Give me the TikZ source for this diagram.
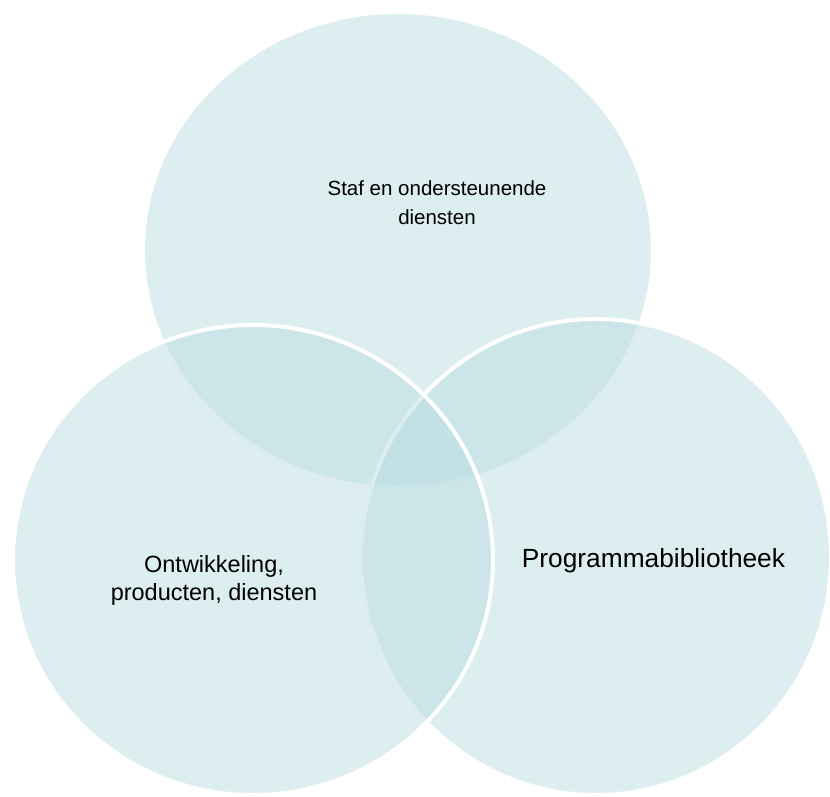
\documentclass[tikz,border=0pt]{standalone}
\usepackage{fontspec}
\setmainfont{Liberation Sans}
\definecolor{vennblue}{RGB}{187,221,225}
\tikzset{
  venn/.style={fill=vennblue,fill opacity=0.5,draw=white,line width=4pt},
  vennlabel/.style={align=center,text=black,inner sep=0pt,anchor=base}
}
\begin{document}
\begin{tikzpicture}[x=1pt,y=-1pt]
  \useasboundingbox (0,0) rectangle (830,796);
  \draw[venn] (398,250) ellipse [x radius=255, y radius=238];
  \draw[venn] (596,557) ellipse [x radius=235, y radius=238];
  \draw[venn] (253,560) ellipse [x radius=240, y radius=235];
  \node[vennlabel,font=\fontsize{20.5}{28.3}\selectfont] (staf) at (437,224) {Staf en ondersteunende\\diensten};
  \node[vennlabel,font=\fontsize{23.5}{28}\selectfont] (ontw) at (214,600) {Ontwikkeling,\\producten, diensten};
  \node[vennlabel,font=\fontsize{26.3}{29}\selectfont] (prog) at (653.5,567) {Programmabibliotheek};
\end{tikzpicture}
\end{document}
